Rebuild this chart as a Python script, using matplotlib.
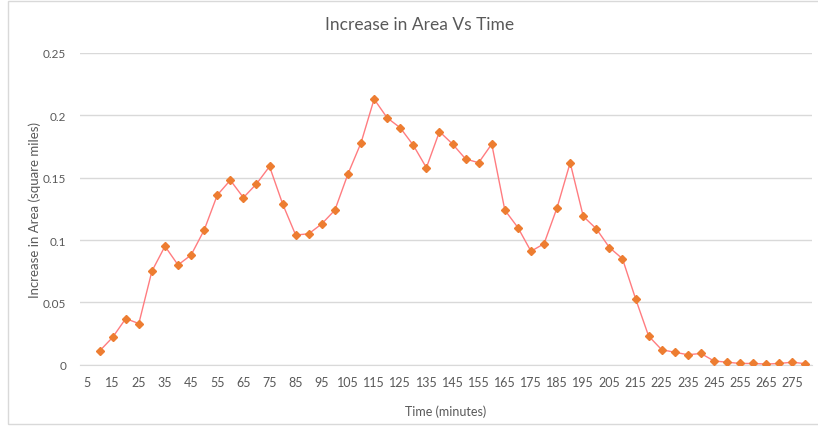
import matplotlib.pyplot as plt
from matplotlib.patches import Rectangle

# time in minutes and increase in area (square miles)
minutes = list(range(10, 285, 5))
area = [0.011, 0.022, 0.037, 0.033, 0.075, 0.095, 0.080, 0.088, 0.108, 0.136,
        0.148, 0.134, 0.145, 0.159, 0.129, 0.104, 0.105, 0.113, 0.124, 0.153,
        0.178, 0.213, 0.198, 0.190, 0.176, 0.158, 0.187, 0.177, 0.165, 0.162,
        0.177, 0.124, 0.110, 0.091, 0.097, 0.126, 0.162, 0.119, 0.109, 0.094,
        0.085, 0.053, 0.023, 0.012, 0.010, 0.008, 0.009, 0.003, 0.002, 0.001,
        0.001, 0.0005, 0.001, 0.002, 0.0008]
xticks = list(range(5, 280, 10))
yticks = [0, 0.05, 0.1, 0.15, 0.2, 0.25]
ytick_labels = ['0', '0.05', '0.1', '0.15', '0.2', '0.25']

plt.rcParams['font.family'] = ['Lato', 'DejaVu Sans']
grey = '#595959'

fig = plt.figure(figsize=(8.18, 4.27), dpi=100)
ax = fig.add_axes([80 / 818, 1 - 365.7 / 427, 732 / 818, 311.7 / 427])

# chart border
fig.patches.append(Rectangle((8 / 818, 2 / 427), 820 / 818, 423 / 427,
                             transform=fig.transFigure, fill=False,
                             edgecolor='#d9d9d9', linewidth=1))

ax.plot(minutes, area, color='#ff7c80', linewidth=1, marker='D',
        markersize=4.5, markerfacecolor='#ed7d31', markeredgecolor='#ed7d31',
        zorder=3)

ax.set_xlim(2.5, 282.5)
ax.set_ylim(0, 0.25)
ax.set_xticks(xticks)
ax.set_yticks(yticks)
ax.set_yticklabels(ytick_labels)
ax.tick_params(length=0, colors=grey, labelsize=9)
ax.tick_params(axis='y', pad=10, labelsize=8.5)
ax.tick_params(axis='x', pad=8)
ax.grid(axis='y', color='#d9d9d9', linewidth=1)
ax.set_axisbelow(True)
for s in ['top', 'right', 'left']:
    ax.spines[s].set_visible(False)
ax.spines['bottom'].set_color('#d9d9d9')

ax.set_xlabel('Time (minutes)', color=grey, fontsize=9, labelpad=12)
ax.set_ylabel('Increase in Area (square miles)', color=grey, fontsize=9.5)
ax.yaxis.set_label_coords(-39 / 732, 0.5)
fig.text(0.513, 1 - 25 / 427, 'Increase in Area Vs Time', color=grey,
         fontsize=12.5, ha='center', va='center')

fig.savefig('out.png', dpi=100)
